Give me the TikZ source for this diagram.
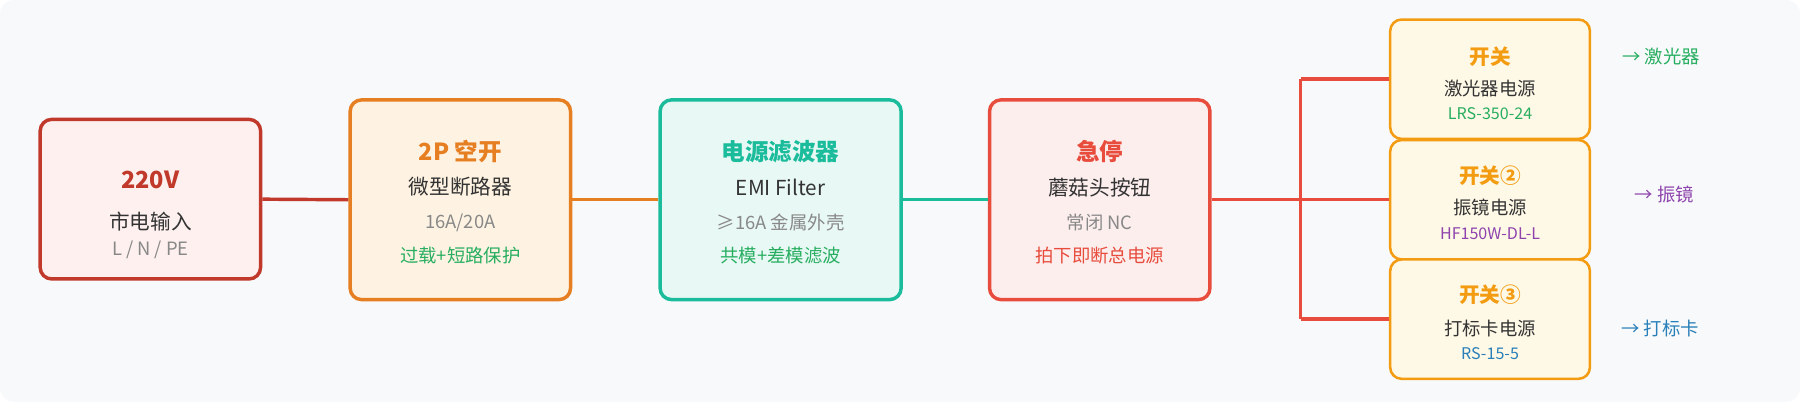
\documentclass[tikz,border=0pt]{standalone}
\usepackage{fontspec}
\setmainfont{Noto Sans CJK SC}
\definecolor{bg}{HTML}{F8F9FB}
\definecolor{cA}{HTML}{C0392B}\definecolor{fA}{HTML}{FDF0EF}
\definecolor{cB}{HTML}{E67E22}\definecolor{fB}{HTML}{FEF3E2}
\definecolor{cC}{HTML}{1ABC9C}\definecolor{fC}{HTML}{E8F8F4}
\definecolor{cD}{HTML}{E74C3C}\definecolor{fD}{HTML}{FDEEEE}
\definecolor{cE}{HTML}{F39C12}\definecolor{fE}{HTML}{FEF8E6}
\definecolor{tx}{HTML}{333333}\definecolor{gr}{HTML}{888888}
\definecolor{gn}{HTML}{27AE60}\definecolor{pu}{HTML}{8E44AD}\definecolor{bl}{HTML}{2980B9}
\begin{document}
\begin{tikzpicture}[x=1pt,y=-1pt,
 box/.style={draw=#1,line width=3pt,rounded corners=10pt,inner sep=0pt},
 t1/.style={font=\fontsize{20.5}{20.5}\selectfont\bfseries},
 t2/.style={font=\fontsize{18}{18}\selectfont,text=tx},
 t3/.style={font=\fontsize{16}{16}\selectfont},
 t4/.style={font=\fontsize{14}{14}\selectfont},
 t5/.style={font=\fontsize{18}{18}\selectfont\bfseries,text=cE},
 wire/.style={line width=3pt}]
\useasboundingbox (0,0) rectangle (1568,350);
\fill[bg,rounded corners=12pt] (0,0) rectangle (1568,350);
\node[box=cA,fill=fA,minimum width=192pt,minimum height=139pt] (a) at (131,173.5) {};
\node[box=cB,fill=fB,minimum width=192pt,minimum height=174pt] (b) at (401,174) {};
\node[box=cC,fill=fC,minimum width=210pt,minimum height=174pt] (c) at (680,174) {};
\node[box=cD,fill=fD,minimum width=192pt,minimum height=174pt] (d) at (958,174) {};
\node[box=cE,fill=fE,minimum width=174pt,minimum height=104pt,line width=2.2pt] (s1) at (1298,69) {};
\node[box=cE,fill=fE,minimum width=174pt,minimum height=104pt,line width=2.2pt] (s2) at (1298,174) {};
\node[box=cE,fill=fE,minimum width=174pt,minimum height=104pt,line width=2.2pt] (s3) at (1298,278) {};
\node[t1,text=cA] (a1) at (131,157) {220V};
\node[t2] (a2) at (131,193) {市电输入};
\node[t3,text=gr] (a3) at (131,218) {L / N / PE};
\node[t1,text=cB] (b1) at (401,132) {2P 空开};
\node[t2] (b2) at (401,163) {微型断路器};
\node[t3,text=gr] (b3) at (401,194) {16A/20A};
\node[t3,text=gn] (b4) at (401,223) {过载+短路保护};
\node[t1,text=cC] (c1) at (680,132) {电源滤波器};
\node[t2] (c2) at (680,163) {EMI Filter};
\node[t3,text=gr] (c3) at (680,194) {≥16A 金属外壳};
\node[t3,text=gn] (c4) at (680,223) {共模+差模滤波};
\node[t1,text=cD] (d1) at (958,132) {急停};
\node[t2] (d2) at (958,163) {蘑菇头按钮};
\node[t3,text=gr] (d3) at (958,194) {常闭 NC};
\node[t3,text=cD] (d4) at (958,223) {拍下即断总电源};
\node[t5] (e1) at (1298,49) {开关};
\node[t3,text=tx] (e2) at (1298,77) {激光器电源};
\node[t4,text=gn] (e3) at (1298,99) {LRS-350-24};
\node[t5] (f1) at (1298,153) {开关②};
\node[t3,text=tx] (f2) at (1298,181) {振镜电源};
\node[t4,text=pu] (f3) at (1298,204) {HF150W-DL-L};
\node[t5] (g1) at (1298,257) {开关③};
\node[t3,text=tx] (g2) at (1298,286) {打标卡电源};
\node[t4,text=bl] (g3) at (1298,308) {RS-15-5};
\node[t3,text=gn] (o1) at (1447,49) {→ 激光器};
\node[t3,text=pu] (o2) at (1450,169) {→ 振镜};
\node[t3,text=bl] (o3) at (1446,286) {→ 打标卡};
\draw[wire,cA] (a.east) -- (b.west);
\draw[wire,cB] (b.east) -- (c.west);
\draw[wire,cC] (c.east) -- (d.west);
\coordinate (j) at (1133,174);
\coordinate (j1) at (1133,69);
\coordinate (j3) at (1133,278);
\draw[wire,cD] (d.east) -- (j);
\draw[wire,cD] (j1) -- (j3);
\draw[wire,cD] (j1) -- (s1.west);
\draw[wire,cD] (j) -- (s2.west);
\draw[wire,cD] (j3) -- (s3.west);
\end{tikzpicture}
\end{document}
